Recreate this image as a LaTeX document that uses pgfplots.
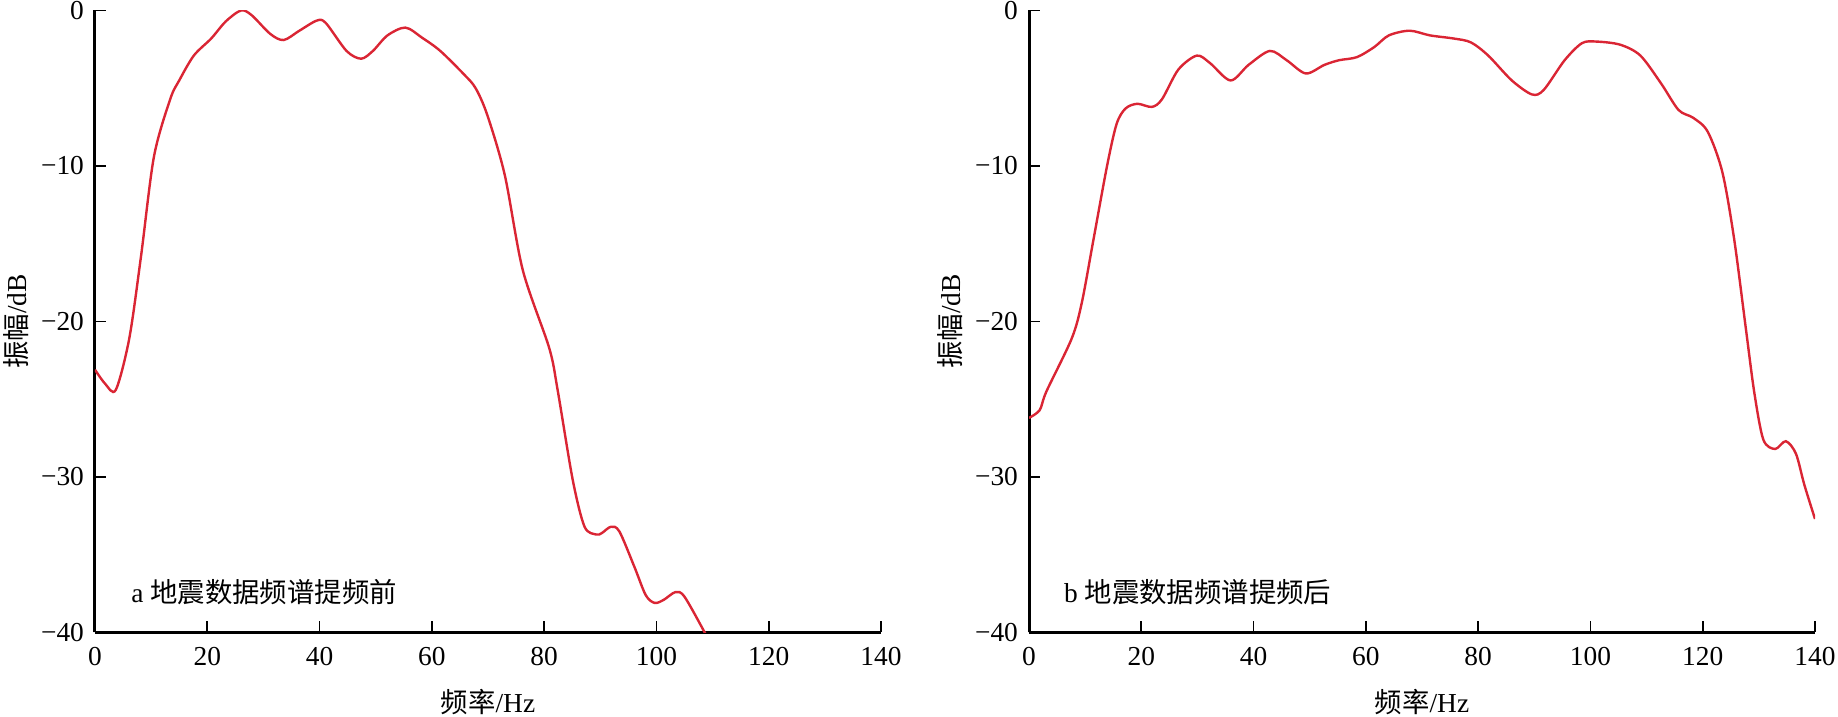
\documentclass[border=0pt]{standalone}
\usepackage{fontspec}
\setmainfont{Liberation Serif}
\newfontfamily\cjk{Noto Sans CJK SC}
\usepackage{pgfplots}
\pgfplotsset{compat=1.18}
\definecolor{curvered}{RGB}{218,37,52}
\pgfplotsset{
  myaxis/.style={
    scale only axis, width=393pt, height=311pt,
    xmin=0, xmax=140, ymin=-40, ymax=0,
    axis lines*=left, axis line style={line width=1.5pt,-},
    xtick={0,20,40,60,80,100,120,140},
    xticklabels={0,20,40,60,80,100,120,140},
    ytick={-40,-30,-20,-10,0},
    yticklabels={−40,−30,−20,−10,0},
    tick align=inside, major tick length=5.5pt,
    tick style={black, line width=0.8pt},
    ticklabel style={font=\fontsize{13.7}{16}\selectfont},
    xticklabel style={yshift=-4pt},
    yticklabel style={xshift=-2pt},
    every axis x label/.style={at={([yshift=-35pt]axis description cs:0.5,0)}, anchor=center, font=\fontsize{13.7}{16}\selectfont},
    every axis y label/.style={at={([xshift=-39.5pt]axis description cs:0,0.5)}, rotate=90, anchor=center, font=\fontsize{13.7}{16}\selectfont},
    xlabel={{\cjk 频率}/Hz},
    ylabel={{\cjk 振幅}/dB},
    clip=true,
  }
}
\begin{document}
\begin{tikzpicture}
\path[use as bounding box] (-47.5pt,-42pt) rectangle (871.5pt,316.25pt);
\begin{axis}[myaxis, at={(0,0)}, anchor=south west]
\addplot[curvered, line width=1.2pt, smooth] coordinates {
(0,-23.1) (1.8,-24.0) (3.7,-24.4) (6.1,-21.1) (8.2,-15.8) (10.5,-9.4) (13.4,-5.7) (15.0,-4.5)
(17.6,-2.9) (20.7,-1.8) (23.3,-0.7) (26.0,0) (27.9,-0.3) (31.2,-1.5) (33.6,-1.9) (36.4,-1.3)
(39.5,-0.65) (41.1,-0.8) (44.8,-2.6) (47.4,-3.1) (49.5,-2.6) (52.1,-1.6) (55.3,-1.1) (58.3,-1.76)
(61.5,-2.6) (65.7,-4.1) (67.8,-5.0) (69.9,-6.75) (73.0,-10.6) (76.2,-16.7) (80.9,-21.7) (82.4,-24.4)
(85.1,-30.2) (87.2,-33.2) (89.3,-33.7) (90.3,-33.6) (91.9,-33.2) (93.4,-33.5) (96.1,-35.8) (98.1,-37.6)
(99.7,-38.1) (101.3,-37.9) (103.4,-37.4) (105.0,-37.7) (108.6,-40.0) (109.7,-40.8)
};
\node[anchor=west, font=\fontsize{13.7}{16}\selectfont] at (axis cs:5.2,-37.4) {a {\cjk 地震数据频谱提频前}};
\end{axis}
\begin{axis}[myaxis, at={(467pt,0)}, anchor=south west]
\addplot[curvered, line width=1.2pt, smooth] coordinates {
(0,-26.2) (1.9,-25.7) (3.1,-24.5) (7.6,-21.1) (9.4,-18.8) (11.5,-14.7) (13.9,-10.0) (15.6,-7.3)
(17.2,-6.3) (19.3,-6.0) (21.9,-6.2) (23.7,-5.7) (26.6,-3.8) (29.9,-2.9) (32.3,-3.4) (35.9,-4.5)
(39.1,-3.5) (42.9,-2.6) (45.9,-3.2) (49.3,-4.05) (52.6,-3.5) (55.2,-3.2) (58.4,-3.0) (61.5,-2.35)
(64.1,-1.6) (67.8,-1.3) (71.4,-1.6) (75.6,-1.8) (78.7,-2.05) (81.8,-2.9) (86.0,-4.5) (89.6,-5.4)
(91.7,-5.1) (95.4,-3.2) (98.5,-2.1) (101.1,-2.0) (105.3,-2.2) (108.9,-2.9) (112.6,-4.7) (115.7,-6.4)
(118.3,-6.9) (120.9,-7.8) (123.5,-10.4) (125.6,-14.7) (127.7,-20.5) (129.2,-24.6) (130.8,-27.6) (132.9,-28.2)
(134.8,-27.7) (136.6,-28.5) (138.1,-30.5) (140,-32.7)
};
\node[anchor=west, font=\fontsize{13.7}{16}\selectfont] at (axis cs:5.0,-37.4) {b {\cjk 地震数据频谱提频后}};
\end{axis}
\end{tikzpicture}
\end{document}
